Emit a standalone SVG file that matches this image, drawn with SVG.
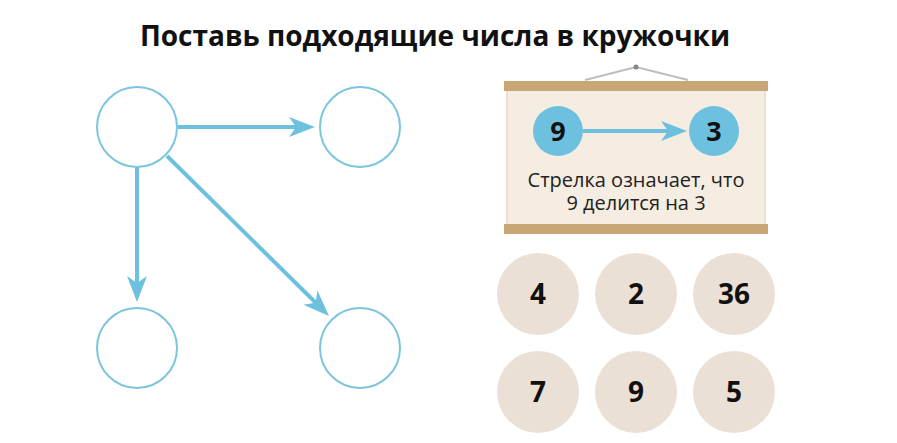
<svg xmlns="http://www.w3.org/2000/svg" width="897" height="443" viewBox="0 0 897 443">
<style>
.title{font-family:"Open Sans","Noto Sans",sans-serif;font-weight:bold;font-size:28px;fill:#111}
.node{fill:#fff;stroke:#7cc5dc;stroke-width:2}
.edge{stroke:#6ec1de;stroke-width:4;fill:none}
.ah{fill:#6ec1de}
.num{font-family:"Open Sans","Noto Sans",sans-serif;font-weight:bold;font-size:28px;fill:#111;text-anchor:middle}
.chip{fill:#ebe0d5}
.bar{fill:#c8a676}
.cap{font-family:"Open Sans","Noto Sans",sans-serif;font-size:20px;fill:#222;text-anchor:middle}
</style>
<defs>
<path id="head" d="M0,0 L-26,-10 L-19,0 L-26,10 Z"/>
</defs>
<rect width="897" height="443" fill="#fff"/>
<text class="title" x="435" y="46" text-anchor="middle">Поставь подходящие числа в кружочки</text>

<g id="connectors">
<line class="edge" x1="178" y1="127" x2="298" y2="127"/>
<use href="#head" class="ah" transform="translate(315,127)"/>
<line class="edge" x1="137" y1="167" x2="137" y2="285"/>
<use href="#head" class="ah" transform="translate(137,302) rotate(90)"/>
<line class="edge" x1="167" y1="156" x2="316" y2="303"/>
<use href="#head" class="ah" transform="translate(329,316) rotate(44.6)"/>
</g>

<g id="n1"><circle class="node" cx="137" cy="127" r="40"/></g>
<g id="n2"><circle class="node" cx="360" cy="127" r="40"/></g>
<g id="n3"><circle class="node" cx="137" cy="348" r="40"/></g>
<g id="n4"><circle class="node" cx="360" cy="348" r="40"/></g>

<g id="poster">
<polyline points="585,80 636,67 688,80" fill="none" stroke="#bdbdbd" stroke-width="2"/>
<circle cx="636" cy="67" r="2.5" fill="#888"/>
<rect x="507" y="90" width="258" height="136" fill="#f5ede2" stroke="#ecdfcf" stroke-width="2"/>
<rect class="bar" x="504" y="81" width="264" height="10"/>
<rect class="bar" x="504" y="224" width="264" height="10"/>
<line class="edge" x1="583" y1="131" x2="670" y2="131"/>
<use href="#head" class="ah" transform="translate(687,131)"/>
<circle cx="558" cy="131" r="25" fill="#6ec1de"/>
<circle cx="714" cy="131" r="25" fill="#6ec1de"/>
<text class="num" x="558" y="141" style="font-size:27px">9</text>
<text class="num" x="714" y="141" style="font-size:27px">3</text>
<text class="cap"><tspan x="636" y="187">Стрелка означает, что</tspan><tspan x="636" y="210">9 делится на 3</tspan></text>
</g>

<g id="c4"><circle class="chip" cx="538" cy="294" r="41"/><text class="num" x="538" y="304">4</text></g>
<g id="c2"><circle class="chip" cx="636" cy="294" r="41"/><text class="num" x="636" y="304">2</text></g>
<g id="c36"><circle class="chip" cx="734" cy="294" r="41"/><text class="num" x="734" y="304">36</text></g>
<g id="c7"><circle class="chip" cx="538" cy="392" r="41"/><text class="num" x="538" y="402">7</text></g>
<g id="c9"><circle class="chip" cx="636" cy="392" r="41"/><text class="num" x="636" y="402">9</text></g>
<g id="c5"><circle class="chip" cx="734" cy="392" r="41"/><text class="num" x="734" y="402">5</text></g>
</svg>
